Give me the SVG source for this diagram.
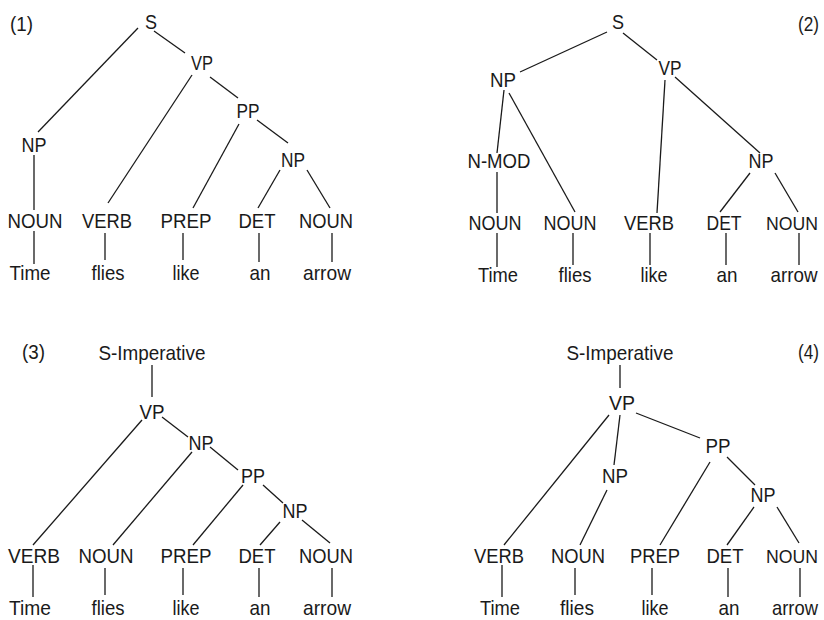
<svg xmlns="http://www.w3.org/2000/svg" width="824" height="620" viewBox="0 0 824 620">
<style>
text{font-family:"Liberation Sans",Arial,sans-serif;font-size:21px;fill:#1a1a1a;text-anchor:middle}
.lbl{text-anchor:start}
.edge{font-size:19px}
.e line{stroke:#1a1a1a;stroke-width:1.3}
</style>
<rect width="824" height="620" fill="#fff"/>
<!-- Panel 1 -->
<g id="t1">
<text class="lbl" x="10" y="31" textLength="23" lengthAdjust="spacingAndGlyphs">(1)</text>
<g id="t1-S"><text x="151" y="29" textLength="12" lengthAdjust="spacingAndGlyphs">S</text></g>
<g id="t1-VP"><text x="202" y="70" textLength="22" lengthAdjust="spacingAndGlyphs">VP</text></g>
<g id="t1-PP"><text x="248" y="118" textLength="23" lengthAdjust="spacingAndGlyphs">PP</text></g>
<g id="t1-NP1"><text x="34" y="152" textLength="25" lengthAdjust="spacingAndGlyphs">NP</text></g>
<g id="t1-NP2"><text x="293" y="167" textLength="24" lengthAdjust="spacingAndGlyphs">NP</text></g>
<g id="t1-NOUN1"><text x="35" y="228" textLength="55" lengthAdjust="spacingAndGlyphs">NOUN</text></g>
<g id="t1-VERB"><text x="107" y="228" textLength="50" lengthAdjust="spacingAndGlyphs">VERB</text></g>
<g id="t1-PREP"><text x="186" y="228" textLength="51" lengthAdjust="spacingAndGlyphs">PREP</text></g>
<g id="t1-DET"><text x="257" y="228" textLength="37" lengthAdjust="spacingAndGlyphs">DET</text></g>
<g id="t1-NOUN2"><text x="326" y="228" textLength="54" lengthAdjust="spacingAndGlyphs">NOUN</text></g>
<g id="t1-w1"><text x="30" y="280" textLength="41" lengthAdjust="spacingAndGlyphs">Time</text></g>
<g id="t1-w2"><text x="108" y="280" textLength="33" lengthAdjust="spacingAndGlyphs">flies</text></g>
<g id="t1-w3"><text x="186" y="280" textLength="27" lengthAdjust="spacingAndGlyphs">like</text></g>
<g id="t1-w4"><text x="260" y="280" textLength="21" lengthAdjust="spacingAndGlyphs">an</text></g>
<g id="t1-w5"><text x="327" y="280" textLength="48" lengthAdjust="spacingAndGlyphs">arrow</text></g>
</g>
<g id="t1-edges" class="e">
<line x1="138" y1="28" x2="38" y2="132"/>
<line x1="154" y1="31" x2="185" y2="53"/>
<line x1="192" y1="75" x2="108" y2="203"/>
<line x1="210" y1="77" x2="238" y2="98"/>
<line x1="239" y1="124" x2="193" y2="208"/>
<line x1="257" y1="120" x2="288" y2="143"/>
<line x1="280" y1="170" x2="258" y2="208"/>
<line x1="307" y1="170" x2="330" y2="208"/>
<line x1="34" y1="155" x2="34" y2="210"/>
<line x1="34" y1="231" x2="34" y2="264"/>
<line x1="105" y1="233" x2="105" y2="260"/>
<line x1="183" y1="233" x2="183" y2="260"/>
<line x1="259" y1="233" x2="259" y2="262"/>
<line x1="332" y1="233" x2="332" y2="262"/>
</g>
<!-- Panel 2 -->
<g id="t2">
<text class="lbl" x="798" y="31" textLength="21" lengthAdjust="spacingAndGlyphs">(2)</text>
<g id="t2-S"><text x="618" y="29" textLength="12" lengthAdjust="spacingAndGlyphs">S</text></g>
<g id="t2-NP1"><text x="503" y="87" textLength="26" lengthAdjust="spacingAndGlyphs">NP</text></g>
<g id="t2-VP"><text x="670" y="75" textLength="23" lengthAdjust="spacingAndGlyphs">VP</text></g>
<g id="t2-NMOD"><text x="499" y="168" textLength="63" lengthAdjust="spacingAndGlyphs">N-MOD</text></g>
<g id="t2-NP2"><text x="761" y="168" textLength="25" lengthAdjust="spacingAndGlyphs">NP</text></g>
<g id="t2-NOUN1"><text x="495" y="230" textLength="53" lengthAdjust="spacingAndGlyphs">NOUN</text></g>
<g id="t2-NOUN2"><text x="570" y="230" textLength="53" lengthAdjust="spacingAndGlyphs">NOUN</text></g>
<g id="t2-VERB"><text x="649" y="230" textLength="50" lengthAdjust="spacingAndGlyphs">VERB</text></g>
<g id="t2-DET"><text x="724" y="230" textLength="35" lengthAdjust="spacingAndGlyphs">DET</text></g>
<g id="t2-NOUN3"><text class="edge" x="792" y="230" textLength="52" lengthAdjust="spacingAndGlyphs">NOUN</text></g>
<g id="t2-w1"><text x="498" y="282" textLength="40" lengthAdjust="spacingAndGlyphs">Time</text></g>
<g id="t2-w2"><text x="575" y="282" textLength="33" lengthAdjust="spacingAndGlyphs">flies</text></g>
<g id="t2-w3"><text x="654" y="282" textLength="27" lengthAdjust="spacingAndGlyphs">like</text></g>
<g id="t2-w4"><text x="727" y="282" textLength="21" lengthAdjust="spacingAndGlyphs">an</text></g>
<g id="t2-w5"><text x="794" y="282" textLength="47" lengthAdjust="spacingAndGlyphs">arrow</text></g>
</g>
<g id="t2-edges" class="e">
<line x1="607" y1="32" x2="520" y2="72"/>
<line x1="623" y1="33" x2="657" y2="60"/>
<line x1="504" y1="90" x2="497" y2="153"/>
<line x1="509" y1="93" x2="575" y2="212"/>
<line x1="665" y1="80" x2="657" y2="213"/>
<line x1="675" y1="77" x2="760" y2="153"/>
<line x1="497" y1="172" x2="497" y2="213"/>
<line x1="497" y1="233" x2="497" y2="267"/>
<line x1="573" y1="233" x2="573" y2="265"/>
<line x1="650" y1="233" x2="650" y2="265"/>
<line x1="750" y1="173" x2="720" y2="212"/>
<line x1="775" y1="173" x2="798" y2="212"/>
<line x1="726" y1="233" x2="726" y2="265"/>
<line x1="799" y1="233" x2="799" y2="265"/>
</g>
<!-- Panel 3 -->
<g id="t3">
<text class="lbl" x="22" y="359" textLength="23" lengthAdjust="spacingAndGlyphs">(3)</text>
<g id="t3-S"><text x="152" y="360" textLength="107" lengthAdjust="spacingAndGlyphs">S-Imperative</text></g>
<g id="t3-VP"><text x="152" y="419" textLength="25" lengthAdjust="spacingAndGlyphs">VP</text></g>
<g id="t3-NP1"><text x="201" y="450" textLength="25" lengthAdjust="spacingAndGlyphs">NP</text></g>
<g id="t3-PP"><text x="253" y="483" textLength="24" lengthAdjust="spacingAndGlyphs">PP</text></g>
<g id="t3-NP2"><text x="295" y="518" textLength="25" lengthAdjust="spacingAndGlyphs">NP</text></g>
<g id="t3-VERB"><text x="34" y="563" textLength="52" lengthAdjust="spacingAndGlyphs">VERB</text></g>
<g id="t3-NOUN1"><text x="106" y="563" textLength="55" lengthAdjust="spacingAndGlyphs">NOUN</text></g>
<g id="t3-PREP"><text x="186" y="563" textLength="51" lengthAdjust="spacingAndGlyphs">PREP</text></g>
<g id="t3-DET"><text x="257" y="563" textLength="37" lengthAdjust="spacingAndGlyphs">DET</text></g>
<g id="t3-NOUN2"><text x="326" y="563" textLength="54" lengthAdjust="spacingAndGlyphs">NOUN</text></g>
<g id="t3-w1"><text x="30" y="615" textLength="42" lengthAdjust="spacingAndGlyphs">Time</text></g>
<g id="t3-w2"><text x="108" y="615" textLength="33" lengthAdjust="spacingAndGlyphs">flies</text></g>
<g id="t3-w3"><text x="186" y="615" textLength="27" lengthAdjust="spacingAndGlyphs">like</text></g>
<g id="t3-w4"><text x="260" y="615" textLength="21" lengthAdjust="spacingAndGlyphs">an</text></g>
<g id="t3-w5"><text x="327" y="615" textLength="48" lengthAdjust="spacingAndGlyphs">arrow</text></g>
</g>
<g id="t3-edges" class="e">
<line x1="152" y1="365" x2="152" y2="397"/>
<line x1="142" y1="420" x2="33" y2="545"/>
<line x1="162" y1="417" x2="188" y2="437"/>
<line x1="192" y1="452" x2="113" y2="545"/>
<line x1="210" y1="447" x2="238" y2="470"/>
<line x1="243" y1="485" x2="193" y2="545"/>
<line x1="263" y1="485" x2="283" y2="503"/>
<line x1="280" y1="522" x2="260" y2="545"/>
<line x1="302" y1="520" x2="330" y2="543"/>
<line x1="33" y1="565" x2="33" y2="597"/>
<line x1="105" y1="568" x2="105" y2="595"/>
<line x1="183" y1="568" x2="183" y2="595"/>
<line x1="259" y1="568" x2="259" y2="597"/>
<line x1="332" y1="568" x2="332" y2="597"/>
</g>
<!-- Panel 4 -->
<g id="t4">
<text class="lbl" x="798" y="359" textLength="21" lengthAdjust="spacingAndGlyphs">(4)</text>
<g id="t4-S"><text x="620" y="360" textLength="107" lengthAdjust="spacingAndGlyphs">S-Imperative</text></g>
<g id="t4-VP"><text x="622" y="410" textLength="26" lengthAdjust="spacingAndGlyphs">VP</text></g>
<g id="t4-NP1"><text x="615" y="483" textLength="26" lengthAdjust="spacingAndGlyphs">NP</text></g>
<g id="t4-PP"><text x="718" y="453" textLength="25" lengthAdjust="spacingAndGlyphs">PP</text></g>
<g id="t4-NP2"><text x="763" y="502" textLength="25" lengthAdjust="spacingAndGlyphs">NP</text></g>
<g id="t4-VERB"><text x="499" y="563" textLength="50" lengthAdjust="spacingAndGlyphs">VERB</text></g>
<g id="t4-NOUN1"><text x="578" y="563" textLength="54" lengthAdjust="spacingAndGlyphs">NOUN</text></g>
<g id="t4-PREP"><text x="655" y="563" textLength="50" lengthAdjust="spacingAndGlyphs">PREP</text></g>
<g id="t4-DET"><text x="725" y="563" textLength="37" lengthAdjust="spacingAndGlyphs">DET</text></g>
<g id="t4-NOUN2"><text class="edge" x="792" y="563" textLength="52" lengthAdjust="spacingAndGlyphs">NOUN</text></g>
<g id="t4-w1"><text x="500" y="615" textLength="40" lengthAdjust="spacingAndGlyphs">Time</text></g>
<g id="t4-w2"><text x="577" y="615" textLength="34" lengthAdjust="spacingAndGlyphs">flies</text></g>
<g id="t4-w3"><text x="655" y="615" textLength="27" lengthAdjust="spacingAndGlyphs">like</text></g>
<g id="t4-w4"><text x="729" y="615" textLength="21" lengthAdjust="spacingAndGlyphs">an</text></g>
<g id="t4-w5"><text x="795" y="615" textLength="46" lengthAdjust="spacingAndGlyphs">arrow</text></g>
</g>
<g id="t4-edges" class="e">
<line x1="620" y1="365" x2="620" y2="388"/>
<line x1="609" y1="415" x2="504" y2="545"/>
<line x1="620" y1="415" x2="614" y2="465"/>
<line x1="636" y1="413" x2="700" y2="438"/>
<line x1="607" y1="490" x2="580" y2="545"/>
<line x1="710" y1="462" x2="660" y2="545"/>
<line x1="727" y1="457" x2="755" y2="485"/>
<line x1="754" y1="507" x2="727" y2="545"/>
<line x1="777" y1="507" x2="799" y2="543"/>
<line x1="502" y1="565" x2="502" y2="597"/>
<line x1="575" y1="568" x2="575" y2="595"/>
<line x1="652" y1="568" x2="652" y2="595"/>
<line x1="728" y1="568" x2="728" y2="597"/>
<line x1="800" y1="568" x2="800" y2="597"/>
</g>
</svg>
